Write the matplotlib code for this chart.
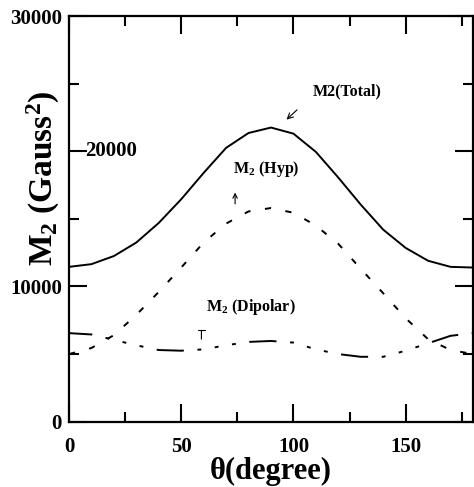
import numpy as np
import matplotlib
matplotlib.use("Agg")
import matplotlib.pyplot as plt
from matplotlib.ticker import MultipleLocator, FixedFormatter, FixedLocator

# serif bold everywhere, like the scanned figure
plt.rcParams['font.family'] = ['Liberation Serif', 'DejaVu Serif']
plt.rcParams['font.weight'] = 'bold'
plt.rcParams['mathtext.fontset'] = 'custom'
plt.rcParams['mathtext.rm'] = 'Liberation Serif:bold'
plt.rcParams['mathtext.it'] = 'Liberation Serif:bold'
plt.rcParams['mathtext.bf'] = 'Liberation Serif:bold'

# data (theta in degrees, M2 in Gauss^2)
theta = [0, 10, 20, 30, 40, 50, 60, 70, 80, 90,
         100, 110, 120, 130, 140, 150, 160, 170, 180]
m2_total = [11450, 11650, 12250, 13250, 14700, 16450, 18400, 20250, 21350, 21750,
            21300, 19950, 18050, 16050, 14200, 12850, 11900, 11450, 11400]
m2_hyp = [5000, 5450, 6400, 7900, 9600, 11400, 13250, 14650, 15550, 15800,
          15450, 14500, 13150, 11300, 9500, 7650, 6100, 5300, 5000]
m2_dip = [6550, 6450, 6050, 5650, 5300, 5250, 5350, 5650, 5900, 5970,
          5850, 5350, 5000, 4800, 4800, 5250, 5800, 6350, 6550]

y_ticks = [0, 10000, 20000, 30000]
y_ticklabels = ['0', '10000', '', '30000']

fig = plt.figure(figsize=(4.74, 4.87), dpi=100)
ax = fig.add_axes([69 / 474, 65.3 / 487, 404 / 474, 405.7 / 487])

lw = 1.4
ax.plot(theta, m2_total, color='black', lw=lw, solid_joinstyle='miter')
ax.plot(theta, m2_hyp, color='black', lw=lw, linestyle=(0, (3.2, 7.5)))
# long dash followed by three dots
ax.plot(theta, m2_dip, color='black', lw=lw,
        linestyle=(2, (14, 7, 2, 7, 2, 7, 2, 7)))

ax.set_xlim(0, 180)
ax.set_ylim(0, 30000)
ax.xaxis.set_major_locator(MultipleLocator(50))
ax.xaxis.set_minor_locator(MultipleLocator(25))
ax.yaxis.set_major_locator(FixedLocator(y_ticks))
ax.yaxis.set_major_formatter(FixedFormatter(y_ticklabels))
ax.yaxis.set_minor_locator(MultipleLocator(5000))

ax.tick_params(which='both', direction='in', top=True, right=True, width=1.5)
ax.tick_params(which='major', length=13)
ax.tick_params(which='minor', length=7)
ax.tick_params(axis='x', which='major', labelsize=15, pad=11)
ax.tick_params(axis='y', which='major', labelsize=15, pad=5)
for s in ax.spines.values():
    s.set_linewidth(1.6)

# the 20000 label sits inside the frame in the original
ax.text(7, 20000, '20000', fontsize=15, fontweight='bold', va='center', ha='left')

ax.set_xlabel('θ(degree)', fontsize=22, fontweight='bold')
ax.xaxis.set_label_coords(0.5, -0.087)
ax.xaxis.label.set_va('top')
ax.set_ylabel('M$_2$ (Gauss$^2$)', fontsize=24, fontweight='bold')
ax.yaxis.set_label_coords(-0.062, 0.60)
ax.yaxis.label.set_va('center')

# curve annotations
ax.annotate('', xy=(96, 22200), xytext=(102.5, 23200),
            arrowprops=dict(arrowstyle='->', lw=0.8, color='black'))
ax.text(124, 24450, 'M2(Total)', fontsize=11.5, fontweight='bold', ha='center', va='center')

ax.annotate('', xy=(74, 17150), xytext=(74, 15900),
            arrowprops=dict(arrowstyle='->', lw=0.8, color='black', mutation_scale=8))
ax.text(88, 18650, 'M$_2$ (Hyp)', fontsize=11.5, fontweight='bold', ha='center', va='center')

ax.annotate('', xy=(59, 6950), xytext=(59, 5900),
            arrowprops=dict(arrowstyle='-[, widthB=0.25, lengthB=0', lw=0.8, color='black'))
ax.text(81, 8450, 'M$_2$ (Dipolar)', fontsize=11.5, fontweight='bold', ha='center', va='center')

fig.savefig('out.png', dpi=100)
